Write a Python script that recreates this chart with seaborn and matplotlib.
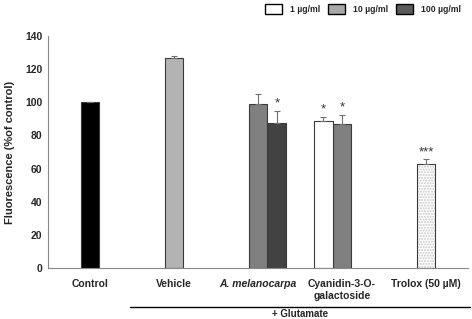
import numpy as np
import pandas as pd
import matplotlib
matplotlib.use('Agg')
import matplotlib.pyplot as plt
from matplotlib.patches import Patch, Rectangle
import seaborn as sns

sns.set_style('white')
plt.rcParams['font.family'] = ['Liberation Sans', 'DejaVu Sans']
plt.rcParams['font.weight'] = 'bold'

# chart data
groups = ['Control', 'Vehicle', 'A. melanocarpa', 'Cyanidin-3-O-\ngalactoside', 'Trolox (50 µM)']
bar_group = [0, 1, 2, 2, 3, 3, 4]
bar_slot = [0, 0, 0, 1, -1, 0, 0]          # slot relative to group centre
bar_key = ['control', 'vehicle', '10', '100', '1', '10', 'trolox']
values = [100, 126.5, 99, 87.5, 88.5, 87, 63]
errors = [0, 1.2, 6, 7.5, 2.8, 5.5, 2.8]
stars = ['', '', '', '*', '*', '*', '***']

legend_labels = ['1 µg/ml', '10 µg/ml', '100 µg/ml']
legend_colors = ['white', '#a8a8a8', '#5a5a5a']

colors = {'control': 'black', 'vehicle': '#b3b3b3', '1': 'white', '10': '#808080',
          '100': '#424242', 'trolox': 'white'}

slot_w = 0.226
df = pd.DataFrame({'pos': np.array(bar_group) + np.array(bar_slot) * slot_w,
                   'value': values, 'key': bar_key})

fig = plt.figure(figsize=(4.72, 3.19), dpi=100)
ax = fig.add_axes([48 / 472, 51 / 319, 420 / 472, 232 / 319])

sns.barplot(data=df, x='pos', y='value', hue='key', palette=colors, native_scale=True,
            dodge=False, width=1, errorbar=None, legend=False, ax=ax,
            edgecolor='#3a3a3a', linewidth=0.8)

# trolox bar: dotted fill
for p in ax.patches:
    x0 = p.get_x() + p.get_width() / 2
    if abs(x0 - 4) < 1e-6 and p.get_height() > 0:
        p.set_hatch('......')
        p.set_edgecolor('#c8c8c8')
        p.set_linewidth(0)
        ax.add_patch(Rectangle((p.get_x(), 0), p.get_width(), p.get_height(),
                               fill=False, edgecolor='#3a3a3a', linewidth=0.8, zorder=3))

ax.errorbar(df['pos'], df['value'], yerr=[np.zeros(len(errors)), errors], fmt='none',
            ecolor='#707070', elinewidth=0.8, capsize=2, capthick=0.8, zorder=4)
for x, v, e, s in zip(df['pos'], values, errors, stars):
    if s:
        ax.text(x, v + e + 0.5, s, ha='center', va='bottom', fontsize=9.5,
                fontweight='normal', color='#333333')

ax.set_xlim(-0.5, 4.5)
ax.set_ylim(0, 140)
ax.set_yticks(range(0, 141, 20))
ax.set_xticks(range(5))
ax.set_xticklabels(groups, fontsize=7.5, fontweight='bold')
ax.get_xticklabels()[2].set_fontstyle('italic')
ax.set_xticks([0.5, 1.5, 2.5, 3.5, 4.5], minor=True)
ax.tick_params(axis='x', which='major', length=0, pad=8)
ax.tick_params(axis='x', which='minor', length=2, color='#888888', direction='out')
ax.tick_params(axis='y', length=2, color='#888888', direction='out', labelsize=7.5, pad=2)
for t in ax.get_yticklabels():
    t.set_fontweight('bold')
ax.set_xlabel('')
ax.set_ylabel('Fluorescence (%of control)', fontsize=8, fontweight='bold', labelpad=7)
sns.despine(ax=ax)
for s in ['left', 'bottom']:
    ax.spines[s].set_color('#888888')
    ax.spines[s].set_linewidth(0.8)

# + Glutamate bracket
trans = matplotlib.transforms.blended_transform_factory(ax.transData, fig.transFigure)
ax.plot([0.48, 4.52], [12 / 319, 12 / 319], transform=trans, color='black',
        linewidth=1, clip_on=False)
fig.text(300 / 472, 5 / 319, '+ Glutamate', ha='center', va='center', fontsize=7,
         fontweight='bold')

handles = [Patch(facecolor=c, edgecolor='black', linewidth=1) for c in legend_colors]
fig.legend(handles, legend_labels, loc='upper right', bbox_to_anchor=(0.993, 1.012), ncol=3,
           frameon=False, fontsize=6.2, handlelength=2.0, handleheight=1.4,
           columnspacing=0.9, handletextpad=0.9)

fig.savefig('out.png', dpi=100)
